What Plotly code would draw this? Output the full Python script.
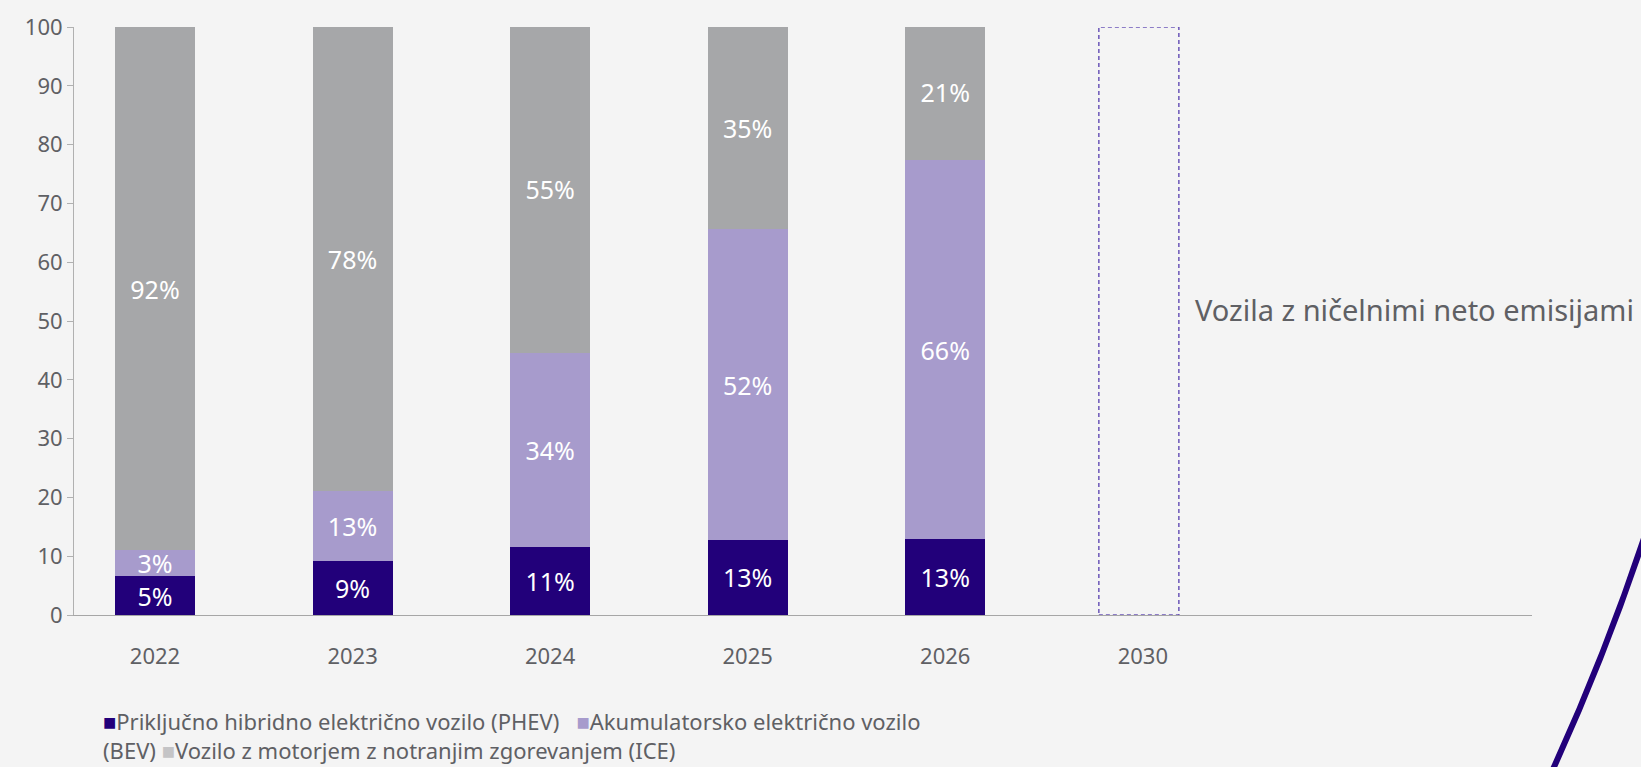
import plotly.graph_objects as go

years = ["2022", "2023", "2024", "2025", "2026", "2030"]
# segment heights as drawn (bar heights), and their printed labels
phev_vals = [6.6, 9.2, 11.5, 12.8, 12.9, None]
bev_vals = [4.4, 11.9, 33.0, 52.8, 64.5, None]
ice_vals = [89.0, 79.0, 56.0, 34.5, 23.1, None]
phev_labels = ["5%", "9%", "11%", "13%", "13%", ""]
bev_labels = ["3%", "13%", "34%", "52%", "66%", ""]
ice_labels = ["92%", "78%", "55%", "35%", "21%", ""]

series_names = [
    "Priključno hibridno električno vozilo (PHEV)",
    "Akumulatorsko električno vozilo (BEV)",
    "Vozilo z motorjem z notranjim zgorevanjem (ICE)",
]
colors = ["#22007a", "#a79bcc", "#a6a7a9"]
legend_square_colors = ["#22007a", "#a79bcc", "#c4c4c6"]
target_year = "2030"
target_value = 100
target_note = "Vozila z ničelnimi neto emisijami"
y_ticks = [0, 10, 20, 30, 40, 50, 60, 70, 80, 90, 100]

FONT = "Noto Sans"
GREY = "#5f6064"
BG = "#f4f4f4"
BAR_W = 0.405

fig = go.Figure()
for vals, labels, name, col in zip(
    [phev_vals, bev_vals, ice_vals],
    [phev_labels, bev_labels, ice_labels],
    series_names, colors,
):
    fig.add_trace(go.Bar(
        x=years, y=vals, name=name, text=labels,
        marker=dict(color=col, line=dict(width=0)),
        width=BAR_W,
        textposition="inside", insidetextanchor="middle",
        constraintext="none",
        textfont=dict(color="white", size=25, family=FONT),
        showlegend=False,
    ))

# dashed outline for the 2030 target
ti = years.index(target_year)
fig.add_shape(
    type="rect", xref="x", yref="y",
    x0=ti - BAR_W / 2 - 0.02, x1=ti + BAR_W / 2 - 0.02,
    y0=0, y1=target_value,
    line=dict(color="#6b55b8", width=1.5, dash="4px,3px"),
    fillcolor="rgba(0,0,0,0)",
)

fig.add_annotation(
    xref="paper", yref="paper", x=0.7675, y=0.519,
    xanchor="left", yanchor="middle", showarrow=False,
    text=target_note, font=dict(size=29, color=GREY, family=FONT),
)

# legend text (wrapped as in the original)
sq = lambda c: f"<span style='color:{c}'>■</span>"
legend_text = (
    f"{sq(legend_square_colors[0])}{series_names[0]}\u00a0\u00a0\u00a0"
    f"{sq(legend_square_colors[1])}{series_names[1].replace(' (BEV)', '')}<br>"
    f"(BEV)\u00a0{sq(legend_square_colors[2])}{series_names[2]}"
)
fig.add_annotation(
    xref="paper", yref="paper", x=0.0185, y=-0.152,
    xanchor="left", yanchor="top", showarrow=False, align="left",
    text=legend_text, font=dict(size=22, color=GREY, family=FONT),
)

# decorative curve at bottom right
fig.add_shape(
    type="path", xref="paper", yref="paper",
    path="M 1.0809 0.1616 Q 1.0521 -0.0595 1.0110 -0.2806",
    line=dict(color="#22007a", width=6),
)

fig.update_layout(
    width=1641, height=767,
    margin=dict(l=74, r=109, t=27, b=152),
    barmode="stack",
    paper_bgcolor=BG, plot_bgcolor=BG,
    font=dict(family=FONT, color=GREY),
    xaxis=dict(
        type="category", categoryorder="array", categoryarray=years,
        range=[-0.41, 6.97],
        showline=True, linecolor="#a6a6a6", linewidth=1,
        showgrid=False, zeroline=False, ticks="",
        ticklabelstandoff=22,
        tickfont=dict(size=22, color=GREY, family=FONT),
    ),
    yaxis=dict(
        range=[0, 100], tickvals=y_ticks,
        showline=True, linecolor="#b0b0b0", linewidth=1,
        ticks="outside", ticklen=6, tickcolor="#b0b0b0",
        showgrid=False, zeroline=False,
        tickfont=dict(size=22, color=GREY, family=FONT),
    ),
)

fig.write_html(
    "out.html",
    config={"displayModeBar": False},
    post_script=(
        "document.body.style.margin='0';"
        "document.body.style.background='" + BG + "';"
        "document.body.style.overflow='hidden';"
    ),
)
